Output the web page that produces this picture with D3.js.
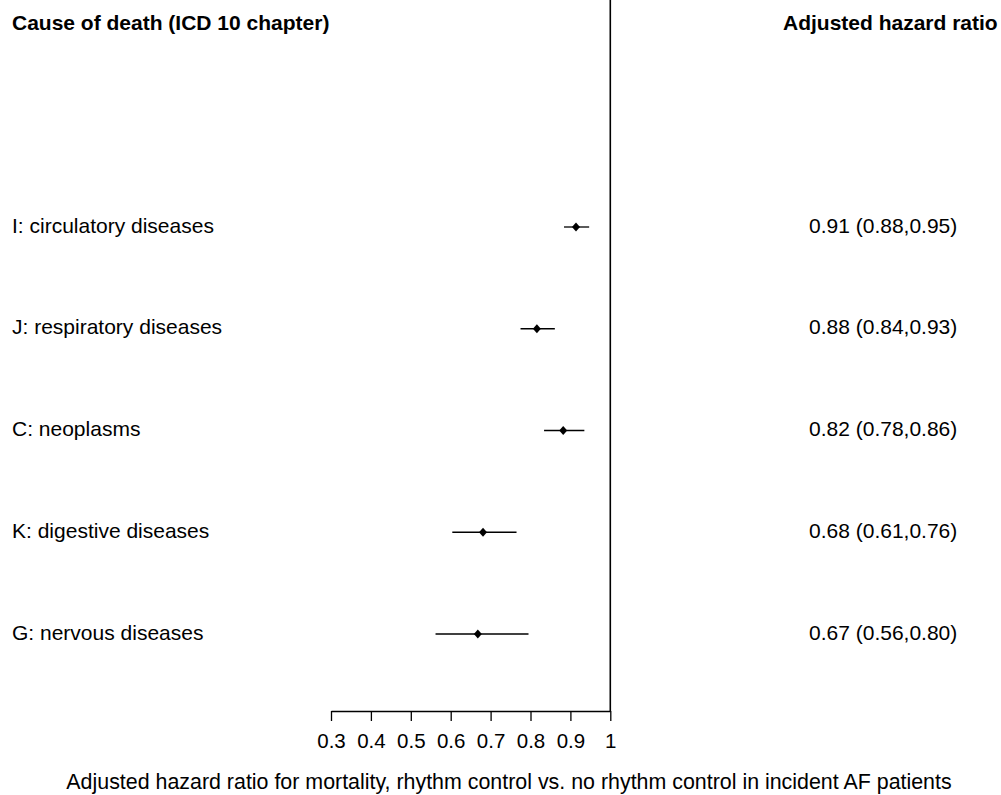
<!DOCTYPE html>
<html><head><meta charset="utf-8">
<script src="https://cdn.jsdelivr.net/npm/d3@7"></script>
<style>body{margin:0;background:#fff;} svg{display:block;} text{font-family:"Liberation Sans",Arial,sans-serif;}</style>
</head><body>
<svg id="c" width="1001" height="795"></svg>
<script>
const categories = ["I: circulatory diseases","J: respiratory diseases","C: neoplasms","K: digestive diseases","G: nervous diseases"];
const estimates = [0.914, 0.816, 0.882, 0.681, 0.668];
const lower = [0.884, 0.775, 0.834, 0.604, 0.562];
const upper = [0.947, 0.861, 0.935, 0.765, 0.795];
const hrLabels = ["0.91 (0.88,0.95)","0.88 (0.84,0.93)","0.82 (0.78,0.86)","0.68 (0.61,0.76)","0.67 (0.56,0.80)"];
const tickValues = [0.3,0.4,0.5,0.6,0.7,0.8,0.9,1];
const tickLabels = ["0.3","0.4","0.5","0.6","0.7","0.8","0.9","1"];
const leftHeader = "Cause of death (ICD 10 chapter)";
const rightHeader = "Adjusted hazard ratio";
const xTitle = "Adjusted hazard ratio for mortality, rhythm control vs. no rhythm control in incident AF patients";

const svg = d3.select("#c");
const x = d3.scaleLinear().domain([0.3,1]).range([331,610.3]);
const y = d3.scalePoint().domain(categories).range([227,634]);
const axisY = 711;
const fs = 21;

// headers
svg.append("text").attr("x",12).attr("y",29.5).attr("font-size",fs).attr("font-weight","bold").text(leftHeader);
svg.append("text").attr("x",783).attr("y",29.5).attr("font-size",fs).attr("font-weight","bold").text(rightHeader);

// reference line at 1
svg.append("line").attr("x1",x(1)).attr("x2",x(1)).attr("y1",0).attr("y2",axisY).attr("stroke","#000").attr("stroke-width",1.6);

// axis
const ax = svg.append("g").attr("transform",`translate(0,${axisY})`)
  .call(d3.axisBottom(x).tickValues(tickValues).tickFormat((d,i)=>tickLabels[i]).tickSize(10).tickPadding(12).tickSizeOuter(0));
ax.select(".domain").attr("stroke","#000").attr("stroke-width",1.3);
ax.selectAll(".tick line").attr("stroke","#000").attr("stroke-width",1.3);
ax.selectAll(".tick text").attr("font-size",20.5).attr("fill","#000").attr("font-family","Liberation Sans, Arial, sans-serif");

// category labels
svg.append("g").selectAll("text").data(categories).join("text")
  .attr("x",12).attr("y",d=>y(d)).attr("dy","0.27em").attr("font-size",fs).text(d=>d);

// HR labels
svg.append("g").selectAll("text").data(hrLabels).join("text")
  .attr("x",809).attr("y",(d,i)=>y(categories[i])).attr("dy","0.27em").attr("font-size",fs).text(d=>d);

// CI lines
svg.append("g").selectAll("line").data(categories).join("line")
  .attr("x1",(d,i)=>x(lower[i])).attr("x2",(d,i)=>x(upper[i]))
  .attr("y1",d=>y(d)).attr("y2",d=>y(d)).attr("stroke","#000").attr("stroke-width",1.3);

// diamonds
svg.append("g").selectAll("path").data(categories).join("path")
  .attr("transform",(d,i)=>`translate(${x(estimates[i])},${y(d)})`)
  .attr("d","M0,-4.5L4,0L0,4.5L-4,0Z").attr("fill","#000");

// x title
svg.append("text").attr("x",509).attr("y",789).attr("text-anchor","middle").attr("font-size",21.4).text(xTitle);
</script>
</body></html>
